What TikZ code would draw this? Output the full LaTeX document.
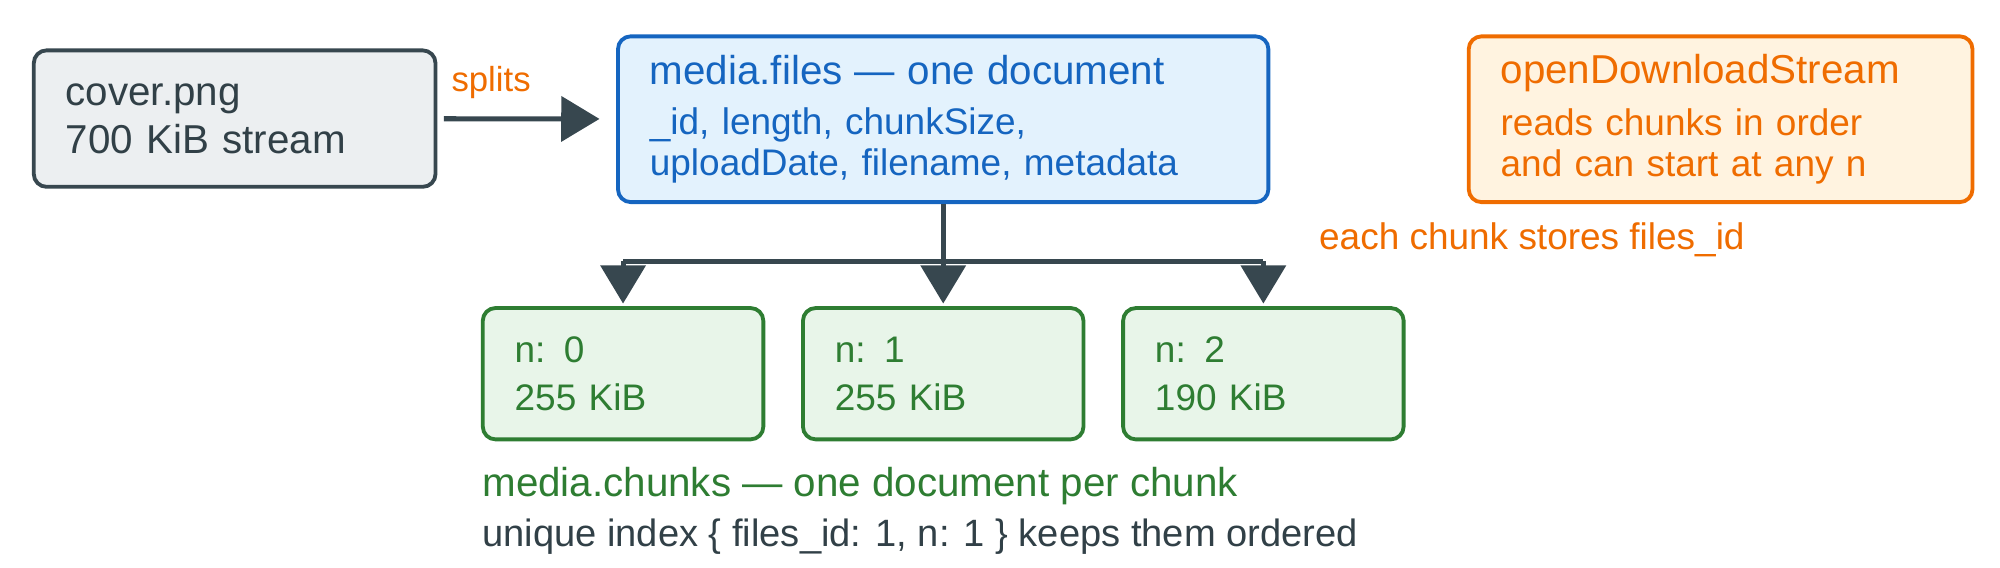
\documentclass[tikz,border=0pt]{standalone}
\usepackage{fontspec}
\setmainfont{Liberation Sans}
\usetikzlibrary{arrows.meta,positioning}

\definecolor{slate}{HTML}{37474F}
\definecolor{slatefill}{HTML}{ECEFF1}
\definecolor{blueline}{HTML}{1565C0}
\definecolor{bluefill}{HTML}{E3F2FD}
\definecolor{orangeline}{HTML}{EF6C00}
\definecolor{orangefill}{HTML}{FFF3E0}
\definecolor{greenline}{HTML}{2E7D32}
\definecolor{greenfill}{HTML}{E8F5E9}

\newcommand{\bigtxt}{\fontsize{18}{21.6}\selectfont}
\newcommand{\midtxt}{\fontsize{16.5}{21.6}\selectfont}
\newcommand{\tighttxt}{\fontsize{16.5}{18.2}\selectfont}

\tikzset{
  box/.style={draw, rounded corners=0.2cm, line width=0.06cm, anchor=north west,
    align=left, inner xsep=0.5cm},
  link/.style={draw=slate, line width=0.08cm,
    -{Triangle[length=0.6cm,width=0.7cm]}},
}

\begin{document}
\begin{tikzpicture}[x=0.02cm,y=-0.02cm]
    \useasboundingbox (0,0) rectangle (1568,445);

    \node[box, draw=slate, fill=slatefill, text=slate!90!black, font=\bigtxt,
      minimum width=6.3cm, minimum height=2.14cm, text width=5.3cm]
      (cover) at (25,38) {cover.png\\700 KiB stream};

    \node[box, draw=blueline, fill=bluefill, text=blueline, font=\tighttxt,
      minimum width=10.2cm, minimum height=2.6cm, text width=9.2cm]
      (files) at (483,27)
      {{\bigtxt media.files — one document}\\[4pt]
       \_id, length, chunkSize,\\uploadDate, filename, metadata};

    \node[box, draw=orangeline, fill=orangefill, text=orangeline, font=\tighttxt,
      minimum width=7.84cm, minimum height=2.6cm, text width=6.9cm]
      (stream) at (1150,27)
      {{\bigtxt openDownloadStream}\\[5pt]
       reads chunks in order\\and can start at any n};

    % chunk documents
    \foreach \i/\x/\size in {0/377/255, 1/628/255, 2/879/190}
      \node[box, draw=greenline, fill=greenfill, text=greenline, font=\midtxt,
        minimum width=4.36cm, minimum height=2.06cm, text width=3.4cm]
        (c\i) at (\x,240) {n: \i\\\size\ KiB};

    \draw[link, shorten <=0.1cm, shorten >=0.26cm] (cover) -- (files);
    \node[text=orangeline, font=\fontsize{15.5}{18}\selectfont] (splits) at (385,65) {splits};

    \coordinate (bus) at (files.south |- 0,205);
    \draw[slate, line width=0.08cm] (files.south) -- (bus);
    \draw[slate, line width=0.08cm] (c0.north |- bus) -- (c2.north |- bus);
    \foreach \i in {0,1,2}
      \draw[link] (c\i.north |- bus) -- ([yshift=0.04cm]c\i.north);

    \node[anchor=west, text=orangeline, font=\midtxt] (note) at (1028,188)
      {each chunk stores files\_id};

    \node[anchor=west, text=greenline, font=\bigtxt] (chunks) at (372,381)
      {media.chunks — one document per chunk};
    \node[anchor=west, text=slate!90!black, font=\fontsize{17}{20}\selectfont] (index) at (372,421)
      {unique index \{ files\_id: 1, n: 1 \} keeps them ordered};
\end{tikzpicture}
\end{document}
